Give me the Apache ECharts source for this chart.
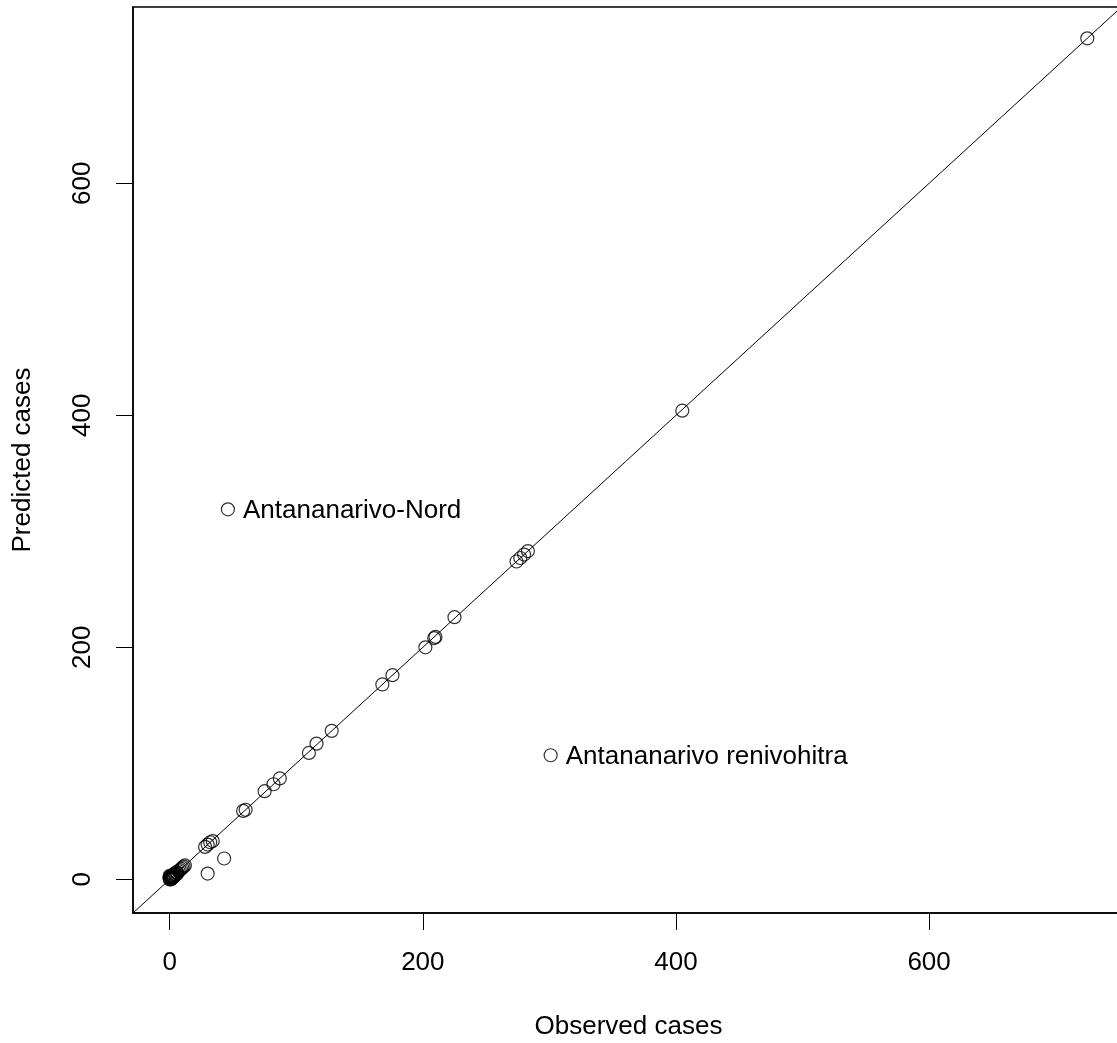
<!DOCTYPE html>
<html>
<head>
<meta charset="utf-8">
<script src="https://cdn.jsdelivr.net/npm/echarts@6/dist/echarts.min.js"></script>
<style>
html,body{margin:0;padding:0;background:#fff;overflow:hidden;}
#chart{width:1117px;height:1043px;}
</style>
</head>
<body>
<div id="chart"></div>
<script>
// Observed vs predicted cases per district
const observed = [0, 0, 0, 0, 1, 1, 1, 2, 2, 2, 3, 3, 3, 4, 4, 5, 5, 6, 6, 7, 8, 9, 10, 11, 12,
  28, 30, 32, 34, 30, 43, 58, 60, 75, 82, 87, 110, 116, 128, 168, 176,
  202, 209, 210, 225, 274, 277, 280, 283, 405, 725];
const predicted = [0, 1, 2, 3, 0, 1, 3, 2, 3, 1, 3, 2, 4, 4, 5, 4, 6, 6, 5, 7, 8, 9, 10, 11, 12,
  28, 30, 32, 33, 5, 18, 59, 60, 76, 82, 87, 109, 117, 128, 168, 176,
  200, 208, 209, 226, 274, 277, 280, 283, 404, 725];
const labelledNames = ["Antananarivo-Nord", "Antananarivo renivohitra"];
const labelledObserved = [46, 301];
const labelledPredicted = [319, 107];
const tickValues = [0, 200, 400, 600];
const xRange = [-29, 754];
const yRange = [-29, 752];

const FONT = "'Liberation Sans', Arial, sans-serif";
const chart = echarts.init(document.getElementById('chart'), null, {renderer: 'canvas'});

const pts = observed.map((v, i) => [v, predicted[i]]);
const named = labelledNames.map((n, i) => ({name: n, value: [labelledObserved[i], labelledPredicted[i]]}));

const axisCommon = {
  type: 'value',
  splitLine: {show: false},
  axisLine: {show: true, onZero: false, lineStyle: {color: '#000', width: 1.5}},
  axisTick: {show: true, inside: false, length: 17, customValues: tickValues, lineStyle: {color: '#000', width: 1}},
  axisLabel: {customValues: tickValues, color: '#000', fontSize: 26, fontFamily: FONT},
  nameTextStyle: {color: '#000', fontSize: 26, fontFamily: FONT},
  nameLocation: 'middle'
};

chart.setOption({
  backgroundColor: '#fff',
  animation: false,
  grid: {left: 133, top: 7, bottom: 130, right: -7, show: true, borderColor: '#000', borderWidth: 1.5,
         containLabel: false, outerBoundsMode: 'none'},
  xAxis: Object.assign({}, axisCommon, {
    min: xRange[0], max: xRange[1],
    name: 'Observed cases', nameGap: 101,
    axisLabel: Object.assign({}, axisCommon.axisLabel, {margin: 37})
  }),
  yAxis: Object.assign({}, axisCommon, {
    min: yRange[0], max: yRange[1],
    name: 'Predicted cases', nameGap: 97,
    axisLabel: Object.assign({}, axisCommon.axisLabel, {rotate: 90, margin: 37})
  }),
  series: [
    {
      type: 'line',
      data: [[xRange[0], xRange[0]], [xRange[1], xRange[1]]],
      symbol: 'none',
      lineStyle: {color: '#000', width: 1},
      clip: true,
      silent: true,
      z: 1
    },
    {
      type: 'scatter',
      data: pts,
      symbol: 'circle',
      symbolSize: 13,
      itemStyle: {color: 'rgba(0,0,0,0)', borderColor: '#000', borderWidth: 1.2},
      z: 2
    },
    {
      type: 'scatter',
      data: named,
      symbol: 'circle',
      symbolSize: 13,
      itemStyle: {color: 'rgba(0,0,0,0)', borderColor: '#000', borderWidth: 1.2},
      label: {show: true, position: 'right', distance: 8, formatter: '{b}', color: '#000',
              opacity: 1, textBorderWidth: 0, fontSize: 26, fontFamily: FONT, offset: [0, 2]},
      z: 2
    }
  ]
});
</script>
</body>
</html>
